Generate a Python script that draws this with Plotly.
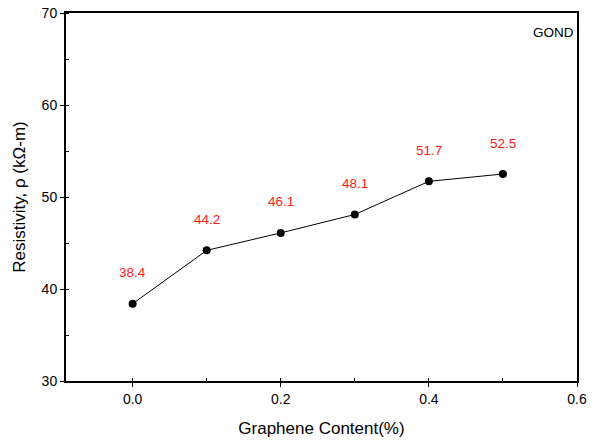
import plotly.graph_objects as go

# Resistivity vs graphene content
graphene_content = [0.0, 0.1, 0.2, 0.3, 0.4, 0.5]
resistivity = [38.4, 44.2, 46.1, 48.1, 51.7, 52.5]
value_labels = ["38.4", "44.2", "46.1", "48.1", "51.7", "52.5"]
x_ticks = [0.0, 0.2, 0.4, 0.6]
x_tick_labels = ["0.0", "0.2", "0.4", "0.6"]
y_ticks = [30, 40, 50, 60, 70]
y_tick_labels = ["30", "40", "50", "60", "70"]

FONT = "Liberation Sans, Arial, sans-serif"

fig = go.Figure()
fig.add_trace(go.Scatter(
    x=graphene_content,
    y=resistivity,
    mode="lines+markers",
    line=dict(color="#000000", width=1),
    marker=dict(color="#000000", size=8),
    showlegend=False,
    hoverinfo="skip",
))

for xv, yv, lab in zip(graphene_content, resistivity, value_labels):
    fig.add_annotation(
        x=xv, y=yv, text=lab, showarrow=False,
        yshift=31, font=dict(family=FONT, size=13.5, color="#ff1a1a"),
    )

fig.add_annotation(
    xref="paper", yref="paper", x=0.998, y=0.948,
    xanchor="right", yanchor="middle", text="GOND", showarrow=False,
    font=dict(family=FONT, size=13.5, color="#000000"),
)

axis_common = dict(
    showline=True, linecolor="#000000", linewidth=2, mirror=True,
    showgrid=False, zeroline=False, automargin=False,
    ticks="outside", ticklen=4, tickwidth=1, tickcolor="#000000",
    tickfont=dict(family=FONT, size=14, color="#000000"),
)

fig.update_xaxes(
    range=[-0.09, 0.6],
    tickvals=x_ticks, ticktext=x_tick_labels,
    title=dict(text="Graphene Content(%)", font=dict(family=FONT, size=17, color="#000000"), standoff=16),
    minor=dict(dtick=0.1, ticks="inside", ticklen=3, tickcolor="#000000", showgrid=False),
    **axis_common,
)
fig.update_yaxes(
    range=[30, 70],
    tickvals=y_ticks, ticktext=y_tick_labels,
    title=dict(text="Resistivity, ρ (kΩ-m)", font=dict(family=FONT, size=17, color="#000000"), standoff=12),
    minor=dict(dtick=5, ticks="inside", ticklen=3, tickcolor="#000000", showgrid=False),
    **axis_common,
)

fig.update_layout(
    width=595, height=441,
    margin=dict(l=66, r=18, t=13, b=60),
    paper_bgcolor="#ffffff", plot_bgcolor="#ffffff",
    font=dict(family=FONT),
)

fig.write_html("out.html")
